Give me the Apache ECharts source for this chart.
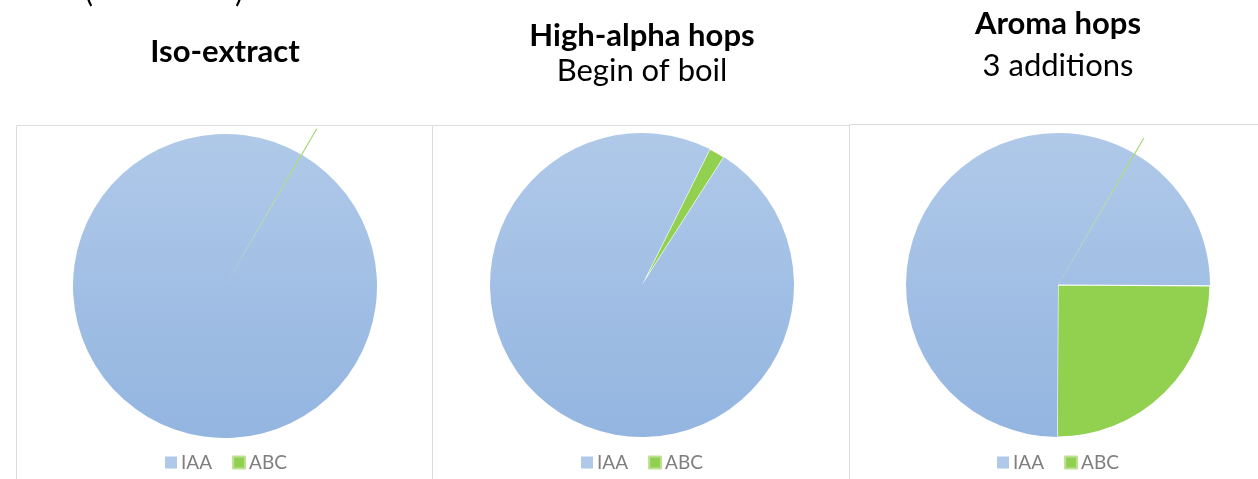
<!DOCTYPE html>
<html>
<head>
<meta charset="utf-8">
<title>Hop bitter compounds</title>
<script src="https://cdn.jsdelivr.net/npm/echarts@6/dist/echarts.min.js"></script>
<style>
  html, body { margin: 0; padding: 0; background: #fff; }
  #main { width: 1258px; height: 479px; }
</style>
</head>
<body>
<div id="main"></div>
<script>
// category names
var categories = ['IAA', 'ABC'];

// share of each compound (percent), clockwise from the first slice
var isoNames = ['ABC', 'IAA'];
var isoValues = [0.15, 99.85];

var highAlphaNames = ['ABC', 'IAA'];
var highAlphaValues = [1.7, 98.3];

var aromaNames = ['ABC', 'IAA', 'ABC', 'IAA'];
var aromaValues = [0.15, 16.6, 25, 58.25];

var panelTitles = ['Iso-extract', 'High-alpha hops', 'Aroma hops'];
var panelSubtitles = ['', 'Begin of boil', '3 additions'];

window.onload = function () {
    chart();
};

function chart() {
    var myChart = echarts.init(document.getElementById('main'));

    var green = '#92d050';
    var font = 'Lato, "Open Sans", sans-serif';

    // one gradient for the whole disc so split IAA slices stay seamless
    function blueFor(cy) {
        return new echarts.graphic.LinearGradient(0, cy - 152, 0, cy + 152, [
            { offset: 0, color: '#b0c9e9' },
            { offset: 1, color: '#93b5e0' }
        ], true);
    }

    // builds the data list of one pie, thin ABC slivers get a leader line
    function pieData(names, values, cy, lineLen) {
        var blue = blueFor(cy);
        return names.map(function (n, i) {
            var item = {
                name: n,
                value: values[i],
                itemStyle: { color: n === 'IAA' ? blue : green }
            };
            if (n === 'ABC' && values[i] < 1) {
                item.itemStyle.borderColor = '#bfe09a';
                item.itemStyle.borderWidth = 0.6;
                item.label = { show: true, formatter: ' ' };
                item.labelLine = {
                    show: true, length: lineLen, length2: 0, smooth: false,
                    lineStyle: { color: '#a6d672', width: 1.2 }
                };
            } else if (n === 'ABC') {
                item.itemStyle.borderColor = '#fff';
                item.itemStyle.borderWidth = 1.2;
            }
            return item;
        });
    }

    function pie(cx, cy, names, values, startAngle, lineLen) {
        return {
            type: 'pie',
            center: [cx, cy],
            radius: 152,
            startAngle: startAngle,
            clockwise: true,
            silent: true,
            avoidLabelOverlap: false,
            label: { show: false },
            labelLine: { show: false },
            itemStyle: { borderWidth: 0 },
            emphasis: { disabled: true },
            data: pieData(names, values, cy, lineLen)
        };
    }

    function legend(left) {
        return {
            data: categories,
            left: left,
            top: 453,
            padding: 0,
            itemWidth: 12,
            itemHeight: 12,
            itemGap: 20,
            icon: 'rect',
            selectedMode: false,
            textStyle: { color: '#7f7f7f', fontSize: 19, fontFamily: font, padding: [0, 0, 0, -1] }
        };
    }

    function title(text, x, y, bold) {
        return {
            text: text, left: x, top: y, padding: 0, textAlign: 'center',
            textStyle: { fontSize: 31, fontWeight: bold ? 'bold' : 'normal', color: '#000', fontFamily: font }
        };
    }

    var centersX = [225, 642, 1058];

    var option = {
        backgroundColor: '#fff',
        title: [
            { text: '(', left: 85, top: -23, padding: 0, textStyle: { fontSize: 30, fontWeight: 'normal', color: '#000', fontFamily: font } },
            { text: ')', left: 235, top: -23, padding: 0, textStyle: { fontSize: 30, fontWeight: 'normal', color: '#000', fontFamily: font } },
            title(panelTitles[0], centersX[0], 36, true),
            title(panelTitles[1], centersX[1], 20, true),
            title(panelSubtitles[1], centersX[1], 55, false),
            title(panelTitles[2], centersX[2], 8, true),
            title(panelSubtitles[2], centersX[2], 50, false)
        ],
        legend: [legend(165), legend(581), legend(997)],
        graphic: [
            { type: 'rect', shape: { x: 16.5, y: 125.5, width: 416, height: 380 }, style: { fill: null, stroke: '#dcdcdc', lineWidth: 1 }, z: -1 },
            { type: 'rect', shape: { x: 432.5, y: 125.5, width: 417, height: 380 }, style: { fill: null, stroke: '#dcdcdc', lineWidth: 1 }, z: -1 },
            { type: 'rect', shape: { x: 849.5, y: 124.5, width: 420, height: 380 }, style: { fill: null, stroke: '#dcdcdc', lineWidth: 1 }, z: -1 }
        ],
        series: [
            pie(centersX[0], 286, isoNames, isoValues, 60, 30),
            pie(centersX[1], 285, highAlphaNames, highAlphaValues, 63.5, 20),
            pie(centersX[2], 285, aromaNames, aromaValues, 60, 18)
        ]
    };
    myChart.setOption(option);
    window.addEventListener('resize', function () {
        myChart.resize();
    });
}
</script>
</body>
</html>
